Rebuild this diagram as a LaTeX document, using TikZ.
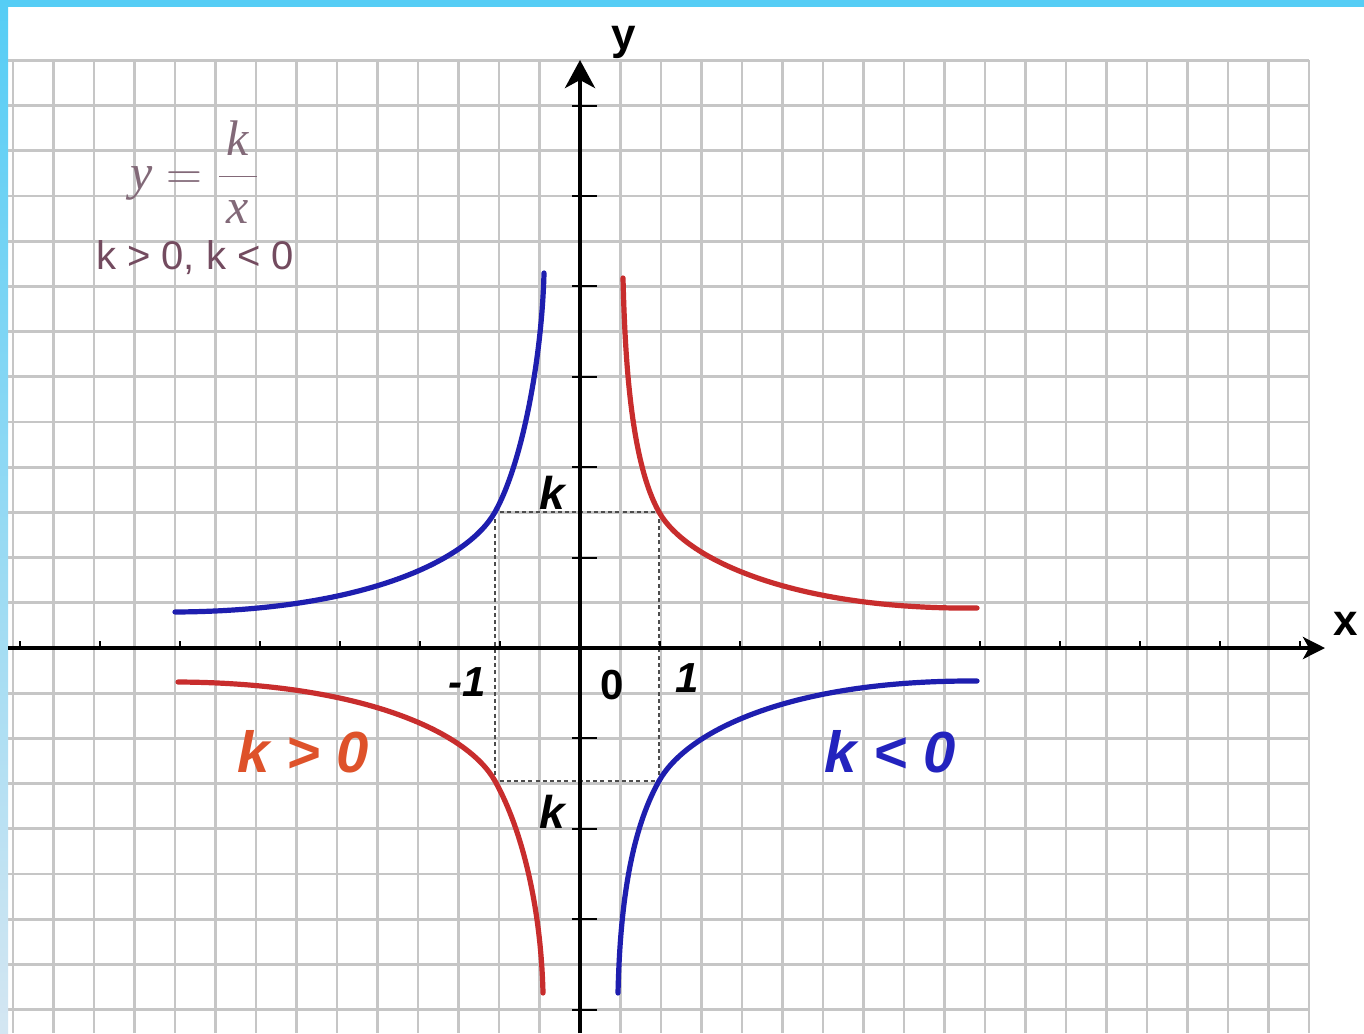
\documentclass[tikz,border=0pt]{standalone}
\usepackage{fontspec}
\setmainfont{Liberation Sans}
\newfontfamily\timesf{Liberation Serif}
\usetikzlibrary{arrows.meta}
\definecolor{barcyan}{RGB}{85,205,245}
\definecolor{barlight}{RGB}{212,230,242}
\definecolor{gridgray}{RGB}{198,198,198}
\definecolor{curvered}{RGB}{200,45,45}
\definecolor{curveblue}{RGB}{30,30,175}
\definecolor{labred}{RGB}{222,82,42}
\definecolor{labblue}{RGB}{35,35,190}
\definecolor{formcol}{RGB}{130,105,120}
\definecolor{kcol}{RGB}{115,75,95}
\begin{document}
\begin{tikzpicture}[x=0.5pt,y=-0.5pt,
  gridline/.style={gridgray, line width=1.4pt},
  axisline/.style={black, line width=2.2pt},
  tickline/.style={black, line width=1pt},
  guide/.style={black!70, line width=0.8pt, dash pattern=on 2pt off 1.6pt},
  curve/.style={line width=2.6pt, line cap=round, line join=round},
  axlabel/.style={font=\fontsize{22}{24}\selectfont\bfseries, inner sep=0pt},
  numlabel/.style={font=\fontsize{21}{24}\selectfont\bfseries\itshape, inner sep=0pt},
  klabel/.style={font=\fontsize{23}{26}\selectfont\bfseries\itshape, inner sep=0pt},
  biglabel/.style={font=\fontsize{29}{32}\selectfont\bfseries\itshape, inner sep=0pt},
]
\useasboundingbox (0,0) rectangle (1364,1033);
\fill[white] (0,0) rectangle (1364,1033);
% grid
\foreach \i in {-14,...,18} \draw[gridline] ({580+40.5*\i},60) -- ({580+40.5*\i},1033);
\foreach \j in {-13,...,8} \draw[gridline] (8,{648+45.2*\j}) -- (1309,{648+45.2*\j});
% frame bars
\fill[barcyan] (0,0) rectangle (1364,7);
\shade[top color=barcyan, bottom color=barlight] (0,0) rectangle (8,1033);
% dotted guides
\coordinate (cUL) at (495,512);
\coordinate (cUR) at (659,512);
\coordinate (cLL) at (495,781);
\coordinate (cLR) at (659,781);
\draw[guide] (cUL) rectangle (cLR);
% axes
\coordinate (ybot) at (580,1033);
\coordinate (ytop) at (580,60);
\coordinate (xleft) at (8,648);
\coordinate (xright) at (1325,648);
\draw[axisline, -{Stealth[length=14pt,width=15pt,inset=4pt]}] (ybot) -- (ytop);
\draw[axisline, -{Stealth[length=11pt,width=11pt,inset=3pt]}] (xleft) -- (xright);
% ticks
\foreach \j in {-6,...,-1,1,2,3,4} \draw[tickline] (572,{648+90.4*\j}) -- (597,{648+90.4*\j});
\foreach \i in {-7,...,-1,1,2,...,9} \draw[tickline] ({580+80*\i},648) -- ({580+80*\i},641);
% curves
\draw[curve, curveblue] (175,612) .. controls (360,611) and (467,562) .. (cUL)
  .. controls (523,462) and (542,355) .. (544,273);
\draw[curve, curvered] (623,278) .. controls (625,360) and (631,462) .. (cUR)
  .. controls (687,562) and (800,610) .. (977,608);
\draw[curve, curvered] (178,682) .. controls (360,683) and (467,731) .. (cLL)
  .. controls (523,831) and (541,910) .. (543,993);
\draw[curve, curveblue] (618,993) .. controls (620,905) and (631,831) .. (cLR)
  .. controls (687,731) and (790,680) .. (977,681);
% labels
\node[axlabel] (ylab) at (624,42) {y};
\node[axlabel] (xlab) at (1346,624) {x};
\node[klabel] (kup) at (552,493) {k};
\node[klabel] (kdn) at (552,812) {k};
\node[numlabel] (mone) at (467,682) {-1};
\node[numlabel, font=\fontsize{21}{24}\selectfont\bfseries] (zero) at (612,685) {0};
\node[numlabel] (one) at (687,678) {1};
\node[biglabel, labred] (kpos) at (303,752) {k > 0};
\node[biglabel, labblue] (kneg) at (890,752) {k < 0};
\node[formcol, font=\fontsize{25}{28}\selectfont, inner sep=0pt] (formula) at (195,172) {$\displaystyle \mbox{\timesf\itshape y} = \frac{\makebox[19pt]{\timesf\itshape k}}{\makebox[19pt]{\timesf\itshape x}}$};
\node[kcol, font=\fontsize{20}{24}\selectfont, inner sep=0pt] (kcond) at (195,258) {k > 0, k < 0};
\end{tikzpicture}
\end{document}
